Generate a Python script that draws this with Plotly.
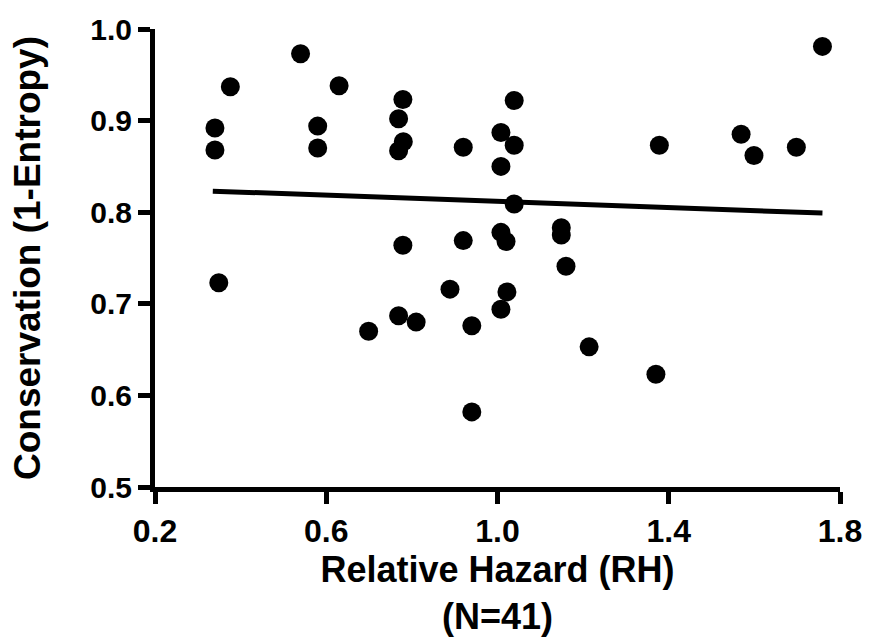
import plotly.graph_objects as go

# Relative hazard (x) and conservation (y) for each sample
rh = [0.340, 0.340, 0.376, 0.540, 0.630, 0.580, 0.580, 0.779, 0.769, 0.780,
      0.769, 0.920, 1.039, 1.008, 1.039, 1.008, 1.039, 1.378, 0.779, 0.920,
      1.008, 1.020, 1.149, 1.149, 1.759, 1.569, 1.599, 1.698, 0.349, 0.699,
      1.160, 0.889, 1.022, 1.008, 0.769, 0.810, 0.940, 1.214, 1.370, 0.940]
conservation = [0.892, 0.868, 0.937, 0.973, 0.938, 0.894, 0.870, 0.923, 0.902, 0.877,
                0.867, 0.871, 0.922, 0.887, 0.873, 0.850, 0.809, 0.873, 0.764, 0.769,
                0.778, 0.768, 0.783, 0.775, 0.981, 0.885, 0.862, 0.871, 0.723, 0.670,
                0.741, 0.716, 0.713, 0.694, 0.687, 0.680, 0.676, 0.653, 0.623, 0.582]

# Linear regression line endpoints
fit_x = [0.335, 1.759]
fit_y = [0.823, 0.799]

x_ticks = [0.2, 0.6, 1.0, 1.4, 1.8]
x_tick_labels = ["0.2", "0.6", "1.0", "1.4", "1.8"]
y_ticks = [0.5, 0.6, 0.7, 0.8, 0.9, 1.0]
y_tick_labels = ["0.5", "0.6", "0.7", "0.8", "0.9", "1.0"]

FONT = "Liberation Sans, Arial, sans-serif"

fig = go.Figure()
fig.add_trace(go.Scatter(
    x=fit_x, y=fit_y, mode="lines",
    line=dict(color="black", width=5),
    hoverinfo="skip", showlegend=False,
))
fig.add_trace(go.Scatter(
    x=rh, y=conservation, mode="markers",
    marker=dict(color="black", size=19, line=dict(width=0)),
    showlegend=False, cliponaxis=False,
))

fig.update_layout(
    width=874, height=637,
    margin=dict(l=155, r=28, t=24, b=150),
    plot_bgcolor="white", paper_bgcolor="white",
    font=dict(family=FONT, color="black"),
    xaxis=dict(
        range=[0.2, 1.8], tickvals=x_ticks, ticktext=x_tick_labels,
        showline=True, linecolor="black", linewidth=5,
        ticks="outside", ticklen=12, tickwidth=5, tickcolor="black",
        showgrid=False, zeroline=False, ticklabeloverflow="allow",
        tickfont=dict(family=FONT, size=32, color="black", weight="bold"),
        title=dict(text="Relative Hazard (RH)<br>(N=41)",
                   font=dict(family=FONT, size=36, color="black", weight="bold"),
                   standoff=2),
    ),
    yaxis=dict(
        range=[0.5, 1.0], tickvals=y_ticks, ticktext=y_tick_labels,
        showline=True, linecolor="black", linewidth=5,
        ticks="outside", ticklen=12, tickwidth=5, tickcolor="black",
        showgrid=False, zeroline=False, ticklabeloverflow="allow",
        tickfont=dict(family=FONT, size=30, color="black", weight="bold"),
        title=dict(text="Conservation (1-Entropy)",
                   font=dict(family=FONT, size=37, color="black", weight="bold"),
                   standoff=40),
    ),
)

fig.write_html("out.html")
